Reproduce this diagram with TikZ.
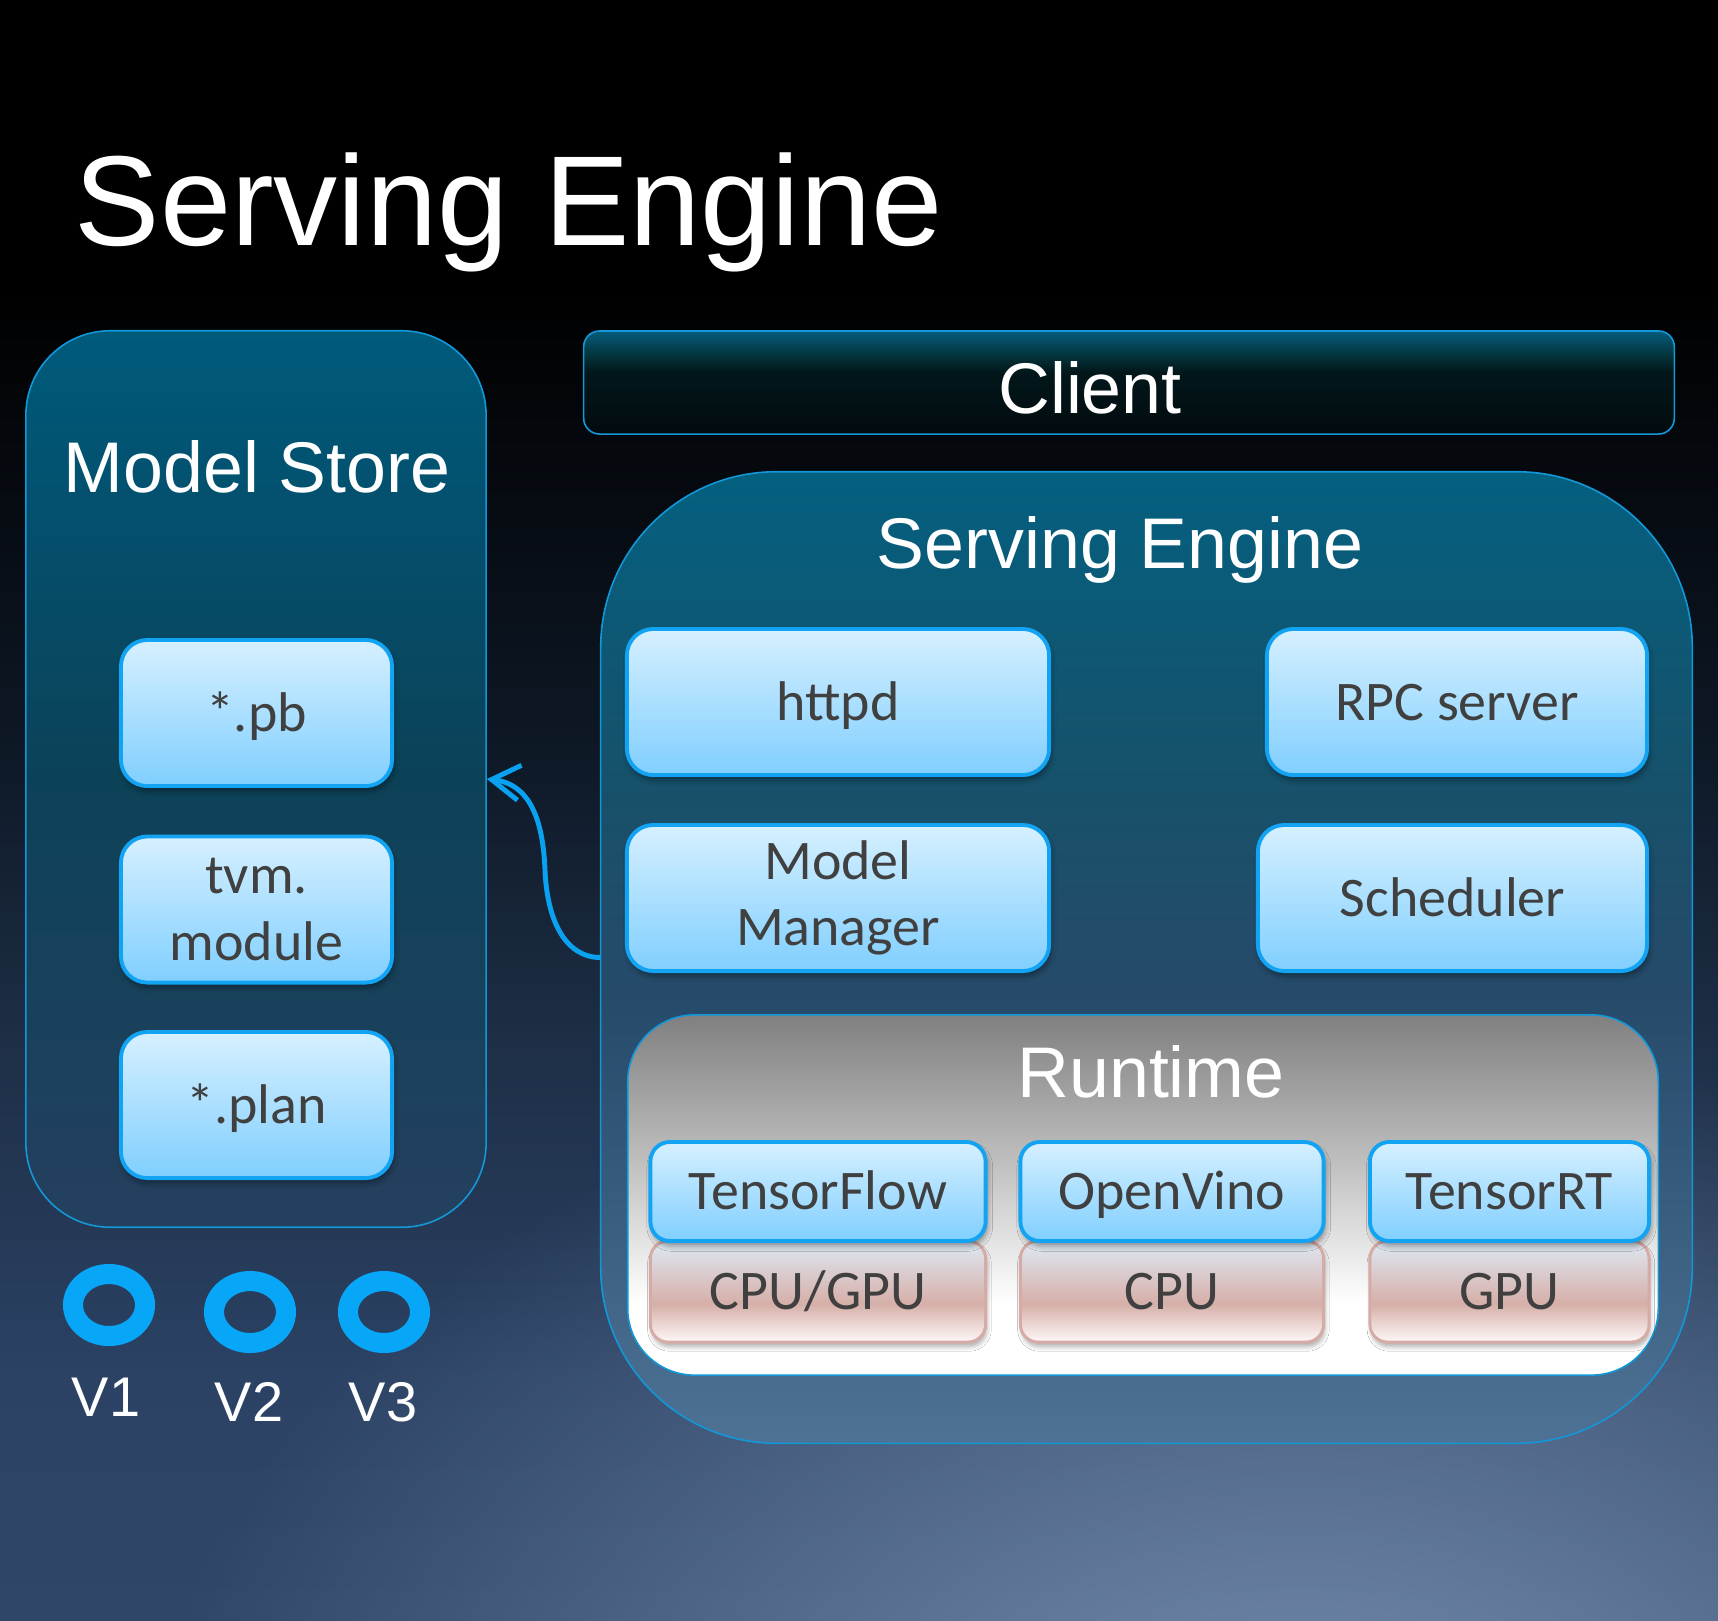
\documentclass[tikz,border=0pt]{standalone}
\usepackage{fontspec}
\setmainfont{Liberation Sans}
\newfontfamily\boxfont{Carlito}
\usetikzlibrary{arrows.meta,shadows.blur,fadings}

\definecolor{ink}{HTML}{404040}
\definecolor{edgeblue}{HTML}{1298D8}
\definecolor{tileedge}{HTML}{12A3F2}
\definecolor{tiletop}{HTML}{D6F0FF}
\definecolor{tilebot}{HTML}{80CFFF}
\definecolor{hwedge}{HTML}{D6ABA6}
\definecolor{ringblue}{HTML}{07A6F7}
\definecolor{linkblue}{HTML}{0AA2F0}
\definecolor{glowcol}{HTML}{8EA6C6}

\pgfdeclareverticalshading{bgshade}{100bp}{color(0bp)=({rgb,255:red,48;green,70;blue,104}); color(25bp)=({rgb,255:red,48;green,70;blue,104}); color(32.5bp)=({rgb,255:red,43;green,66;blue,100}); color(42.5bp)=({rgb,255:red,30;green,47;blue,71}); color(52.5bp)=({rgb,255:red,13;green,23;blue,36}); color(66bp)=(black); color(100bp)=(black)}
\pgfdeclareverticalshading{storeshade}{100bp}{color(0bp)=({rgb,255:red,37;green,64;blue,95}); color(25bp)=({rgb,255:red,37;green,64;blue,95}); color(50bp)=({rgb,255:red,12;green,66;blue,88}); color(65bp)=({rgb,255:red,3;green,80;blue,110}); color(75bp)=({rgb,255:red,0;green,90;blue,122}); color(100bp)=({rgb,255:red,0;green,90;blue,122})}
\pgfdeclareverticalshading{clientshade}{100bp}{color(0bp)=({rgb,255:red,2;green,11;blue,15}); color(25bp)=({rgb,255:red,2;green,11;blue,15}); color(55bp)=({rgb,255:red,2;green,23;blue,26}); color(62bp)=({rgb,255:red,4;green,48;blue,54}); color(75bp)=({rgb,255:red,5;green,92;blue,124}); color(100bp)=({rgb,255:red,5;green,92;blue,124})}
\pgfdeclareverticalshading{engineshade}{100bp}{color(0bp)=({rgb,255:red,77;green,114;blue,149}); color(25bp)=({rgb,255:red,77;green,114;blue,149}); color(48bp)=({rgb,255:red,38;green,74;blue,106}); color(58bp)=({rgb,255:red,24;green,80;blue,106}); color(75bp)=({rgb,255:red,3;green,96;blue,127}); color(100bp)=({rgb,255:red,3;green,96;blue,127})}
\pgfdeclareverticalshading{runtimeshade}{100bp}{color(0bp)=(white); color(25bp)=(white); color(35bp)=(white); color(55bp)=({rgb,255:red,190;green,190;blue,190}); color(75bp)=({rgb,255:red,128;green,128;blue,128}); color(100bp)=({rgb,255:red,128;green,128;blue,128})}
\pgfdeclareverticalshading{hwshade}{100bp}{color(0bp)=({rgb,255:red,253;green,248;blue,248}); color(25bp)=({rgb,255:red,253;green,248;blue,248}); color(44bp)=({rgb,255:red,214;green,175;blue,168}); color(75bp)=({rgb,255:red,222;green,233;blue,244}); color(100bp)=({rgb,255:red,222;green,233;blue,244})}

\tikzfading[name=glowfade, inner color=transparent!25, outer color=transparent!100]

\newcommand{\blocktile}[5]{ \node[tile, captext, minimum width=#4] (#1) at (#2,#3) {#5};}
\newcommand{\framework}[4]{ \node[tile, captext, fwbox, minimum width=#3] (#1) at (#2,1191.5) {#4};}
\newcommand{\hardware}[4]{ \node[hwbox, captext, minimum width=#3] (#1) at (#2,1291.5) {#4};}

\begin{document}
\begin{tikzpicture}[x=0.01cm, y=-0.01cm,
    panel/.style={rectangle, inner sep=0pt, line width=0.45pt, draw=edgeblue},
    heading/.style={text=white, inner sep=0pt, anchor=base, font=\fontsize{20.4pt}{24pt}\selectfont},
    tile/.style={rectangle, rounded corners=7.5pt, draw=tileedge, line width=1.1pt,
        top color=tiletop, bottom color=tilebot, minimum height=1.46cm, inner sep=0pt,
        text=ink, font=\boxfont\fontsize{15.9pt}{18.8pt}\selectfont,
        blur shadow={shadow xshift=0.5pt, shadow yshift=-1.4pt, shadow blur radius=1.5pt, shadow opacity=40}},
    captext/.style={text height=10.3pt, text depth=0pt},
    fwbox/.style={rounded corners=5.5pt, minimum height=0.99cm},
    hwbox/.style={rectangle, rounded corners=5pt, draw=hwedge, line width=0.85pt,
        shading=hwshade, minimum height=1.01cm, inner sep=0pt,
        text=ink, font=\boxfont\fontsize{15.9pt}{18.8pt}\selectfont,
        blur shadow={shadow xshift=0.4pt, shadow yshift=-1.4pt, shadow blur radius=1.2pt, shadow opacity=30}},
    ring/.style={draw=ringblue, line width=5.7pt},
    vlabel/.style={text=white, inner sep=0pt, anchor=base, font=\fontsize{15.9pt}{19pt}\selectfont},
    link/.style={draw=linkblue, line width=1.4pt, -{Straight Barb[length=8pt, width=10pt, line width=1.4pt]}}]

    % background
    \useasboundingbox (0,0) rectangle (1718,1620);
    \shade[shading=bgshade] (0,0) rectangle (1718,1620);
    \begin{scope}
        \clip (0,0) rectangle (1718,1620);
        \fill[glowcol, path fading=glowfade] (1300,1780) ellipse [x radius=1150, y radius=760];
    \end{scope}

    \node[anchor=base west, inner sep=0pt, text=white, font=\fontsize{36.4pt}{40pt}\selectfont] (title) at (74,245) {Serving Engine};

    % model store
    \node[panel, shading=storeshade, rounded corners=24pt, minimum width=4.6cm, minimum height=8.96cm] (store) at (256,779) {};
    \node[heading] (storetitle) at (257,492) {Model Store};
    \blocktile{pb}{256.5}{713}{2.71cm}{*.pb}
    \node[tile, align=center, minimum width=2.71cm] (tvm) at (256.5,909.5) {tvm.\\module};
    \blocktile{plan}{256.5}{1105}{2.71cm}{*.plan}

    % versions
    \draw[ring] (109,1305) ellipse [x radius=36, y radius=31];
    \draw[ring] (250,1312) ellipse [x radius=36, y radius=31];
    \draw[ring] (384,1312) ellipse [x radius=36, y radius=31];
    \node[vlabel] (v1) at (106,1416) {V1};
    \node[vlabel] (v2) at (249,1421) {V2};
    \node[vlabel] (v3) at (383,1421) {V3};

    % client
    \node[panel, shading=clientshade, rounded corners=4.5pt, minimum width=10.9cm, minimum height=1.03cm] (client) at (1129,382.5) {};
    \node[heading] (clienttitle) at (1090,413) {Client};

    % serving engine
    \node[panel, shading=engineshade, rounded corners=50pt, minimum width=10.91cm, minimum height=9.71cm] (engine) at (1146.5,957.5) {};
    \node[heading] (enginetitle) at (1120,568) {Serving Engine};
    \blocktile{httpd}{838}{702}{4.22cm}{httpd}
    \blocktile{rpc}{1457}{702}{3.80cm}{RPC server}
    \node[tile, align=center, minimum width=4.22cm] (manager) at (838,898) {Model\\Manager};
    \blocktile{sched}{1452.5}{898}{3.89cm}{Scheduler}

    % runtime
    \node[panel, shading=runtimeshade, rounded corners=19pt, minimum width=10.3cm, minimum height=3.6cm] (runtime) at (1143,1195) {};
    \node[heading] (runtimetitle) at (1151,1097) {Runtime};
    \hardware{cpugpu}{818}{3.35cm}{CPU/GPU}
    \hardware{cpu}{1172}{3.03cm}{CPU}
    \hardware{gpu}{1509.5}{2.79cm}{GPU}
    \framework{tf}{818}{3.35cm}{TensorFlow}
    \framework{ov}{1172}{3.03cm}{OpenVino}
    \framework{trt}{1509.5}{2.79cm}{TensorRT}

    % load models
    \draw[link] (engine.west) .. controls (565,957) and (547,920) .. (545,870)
        .. controls (543,820) and (530,784) .. (store.east);

\end{tikzpicture}
\end{document}
